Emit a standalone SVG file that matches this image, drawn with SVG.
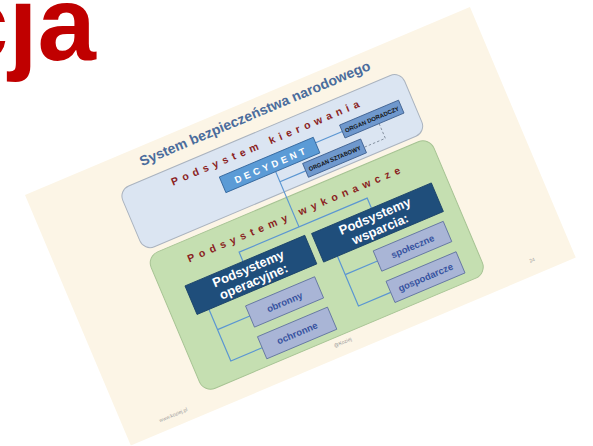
<svg xmlns="http://www.w3.org/2000/svg" width="593" height="446" viewBox="0 0 593 446">
<style>
.f{font-family:"Liberation Sans",Arial,sans-serif;font-weight:bold}
.title{fill:#4a6c9c;font-size:14px}
.red{fill:#8a2222;font-size:10.5px}
.hdr{fill:#1f4e7b;stroke:#183f66;stroke-width:0.8}
.hdrt{fill:#ffffff;font-size:13px;text-anchor:middle}
.sub{fill:#a9b5d6;stroke:#5d6f9e;stroke-width:0.8}
.subt{fill:#3753a0;font-size:9.5px;text-anchor:middle}
.org{fill:#6f98cd;stroke:#3a5c8c;stroke-width:0.8}
.orgt{fill:#111;font-size:6px;text-anchor:middle}
.ln{fill:none;stroke:#5b96d2;stroke-width:1.2}
.dash{fill:none;stroke:#7a8796;stroke-width:0.8;stroke-dasharray:2.5 2}
.small{fill:#9a9a9a;font-size:5px;font-weight:normal}
</style>
<rect width="593" height="446" fill="#ffffff"/>
<text class="f" x="-50" y="60" font-size="105" fill="#c00000">cja</text>
<g transform="translate(25,195) rotate(-22.9)">
  <rect id="slide" x="0" y="0" width="483" height="272" fill="#fcf5e6"/>
  <text class="f title" x="119" y="19" textLength="249" lengthAdjust="spacingAndGlyphs">System bezpieczeństwa narodowego</text>
  <g id="kierowania">
    <rect x="88" y="32" width="306" height="66" rx="11" fill="#dbe5f2" stroke="#aab3bf" stroke-width="1"/>
    <text class="f red" x="140" y="49" textLength="203" lengthAdjust="spacing">Podsystem kierowania</text>
  </g>
  <g id="wykonawcze">
    <rect x="88" y="104" width="307" height="148" rx="12" fill="#c5dfb1" stroke="#a6c393" stroke-width="1"/>
    <text class="f red" x="125" y="126" textLength="230" lengthAdjust="spacing">Podsystemy wykonawcze</text>
  </g>
  <g id="connectors">
    <line class="ln" x1="288" y1="65" x2="317" y2="65"/>
    <polyline class="ln" points="240,76 240,136"/>
    <line class="ln" x1="240" y1="87" x2="268" y2="87"/>
    <polyline class="ln" points="175,146 175,136 314,136 314,147"/>
    <polyline class="ln" points="125,177 125,233 159,233"/>
    <line class="ln" x1="125" y1="199" x2="160" y2="199"/>
    <polyline class="ln" points="264,178 264,232 299,232"/>
    <line class="ln" x1="264" y1="198" x2="299" y2="198"/>
    <polyline class="dash" points="354,72 354,88 331,88"/>
  </g>
  <g id="decydent">
    <rect x="186" y="59" width="102" height="17" fill="#5b9bd6" stroke="#2f6299" stroke-width="0.8"/>
    <text class="f" x="199" y="71.5" font-size="9.5" fill="#ffffff" textLength="76" lengthAdjust="spacing">DECYDENT</text>
  </g>
  <g id="organ-doradczy">
    <rect class="org" x="317" y="58" width="64" height="14"/>
    <text class="f orgt" x="349" y="67.5" textLength="58" lengthAdjust="spacingAndGlyphs">ORGAN DORADCZY</text>
  </g>
  <g id="organ-sztabowy">
    <rect class="org" x="268" y="79" width="63" height="15"/>
    <text class="f orgt" x="299.5" y="89" textLength="56" lengthAdjust="spacingAndGlyphs">ORGAN SZTABOWY</text>
  </g>
  <g id="operacyjne">
    <rect class="hdr" x="112" y="146" width="130" height="31"/>
    <text class="f hdrt" x="177" y="159">Podsystemy</text>
    <text class="f hdrt" x="177" y="173">operacyjne:</text>
  </g>
  <g id="wsparcia">
    <rect class="hdr" x="249" y="147" width="130" height="31"/>
    <text class="f hdrt" x="314" y="160">Podsystemy</text>
    <text class="f hdrt" x="314" y="174">wsparcia:</text>
  </g>
  <g id="obronny">
    <rect class="sub" x="160" y="188" width="75" height="23"/>
    <text class="f subt" x="197.5" y="203">obronny</text>
  </g>
  <g id="ochronne">
    <rect class="sub" x="159" y="221" width="76" height="24"/>
    <text class="f subt" x="197" y="236.5">ochronne</text>
  </g>
  <g id="spoleczne">
    <rect class="sub" x="299" y="187" width="76" height="22"/>
    <text class="f subt" x="337" y="201.5">społeczne</text>
  </g>
  <g id="gospodarcze">
    <rect class="sub" x="299" y="220" width="76" height="23"/>
    <text class="f subt" x="337" y="235">gospodarcze</text>
  </g>
  <text class="f small" x="36" y="262">www.koziej.pl</text>
  <text class="f small" x="226" y="261">@Koziej</text>
  <text class="f small" x="439" y="259">24</text>
</g>
</svg>
